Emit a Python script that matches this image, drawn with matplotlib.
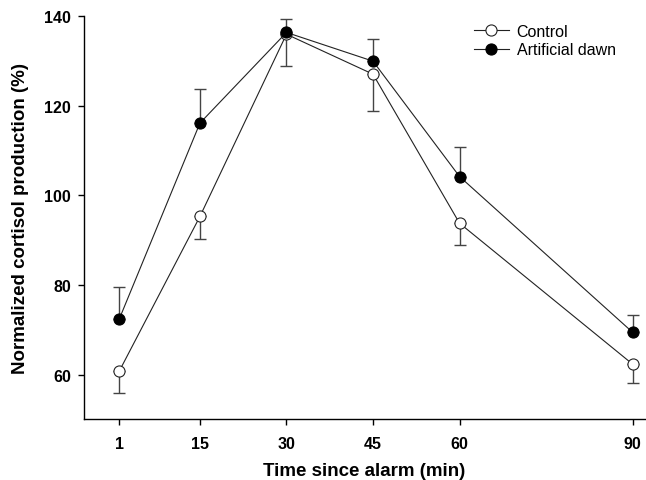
import numpy as np
import matplotlib
matplotlib.use("Agg")
import matplotlib.pyplot as plt

plt.rcParams['font.family'] = ['Liberation Sans', 'DejaVu Sans']

minutes = [1, 15, 30, 45, 60, 90]
control = [60.8, 95.3, 135.9, 127.0, 93.8, 62.4]
control_err = [4.8, 5.1, 7.0, 8.3, 4.8, 4.2]
dawn = [72.4, 116.1, 136.3, 129.9, 104.2, 69.5]
dawn_err = [7.1, 7.5, 3.0, 5.0, 6.6, 3.8]

fig = plt.figure(figsize=(6.46, 4.81), dpi=100)
ax = fig.add_axes([0.130, 0.127, 0.868, 0.838])

zeros = np.zeros(len(minutes))
ax.errorbar(minutes, control, yerr=[control_err, zeros], fmt='none',
            ecolor='#444444', elinewidth=1.0, capsize=4.5, capthick=1.0, zorder=1)
ax.errorbar(minutes, dawn, yerr=[zeros, dawn_err], fmt='none',
            ecolor='#444444', elinewidth=1.0, capsize=4.5, capthick=1.0, zorder=1)

ax.plot(minutes, control, '-o', color='#222222', lw=0.8, ms=8,
        mfc='white', mec='#222222', mew=0.8, label='Control', zorder=3)
ax.plot(minutes, dawn, '-o', color='#222222', lw=0.8, ms=8,
        mfc='black', mec='black', mew=0.8, label='Artificial dawn', zorder=4)

ax.set_xlim(-5.1, 92.1)
ax.set_ylim(50.2, 140)
ax.set_xticks(minutes)
ax.set_yticks([60, 80, 100, 120, 140])
for s in ['top', 'right']:
    ax.spines[s].set_visible(False)
for s in ['left', 'bottom']:
    ax.spines[s].set_linewidth(1.0)
ax.tick_params(direction='out', length=4.5, width=1.0, labelsize=11.5)
ax.tick_params(axis='x', pad=8)
ax.tick_params(axis='y', pad=5)
for lab in ax.get_xticklabels() + ax.get_yticklabels():
    lab.set_fontweight('bold')

ax.set_xlabel('Time since alarm (min)', fontsize=13.5, fontweight='bold', labelpad=8)
ax.set_ylabel('Normalized cortisol production (%)', fontsize=13.5, fontweight='bold', labelpad=11)

ax.legend(loc='upper left', bbox_to_anchor=(0.672, 1.012), frameon=False,
          fontsize=11.5, handlelength=2.2, handletextpad=0.5, labelspacing=0.22,
          borderpad=0.3)

fig.savefig('out.png', dpi=100)
